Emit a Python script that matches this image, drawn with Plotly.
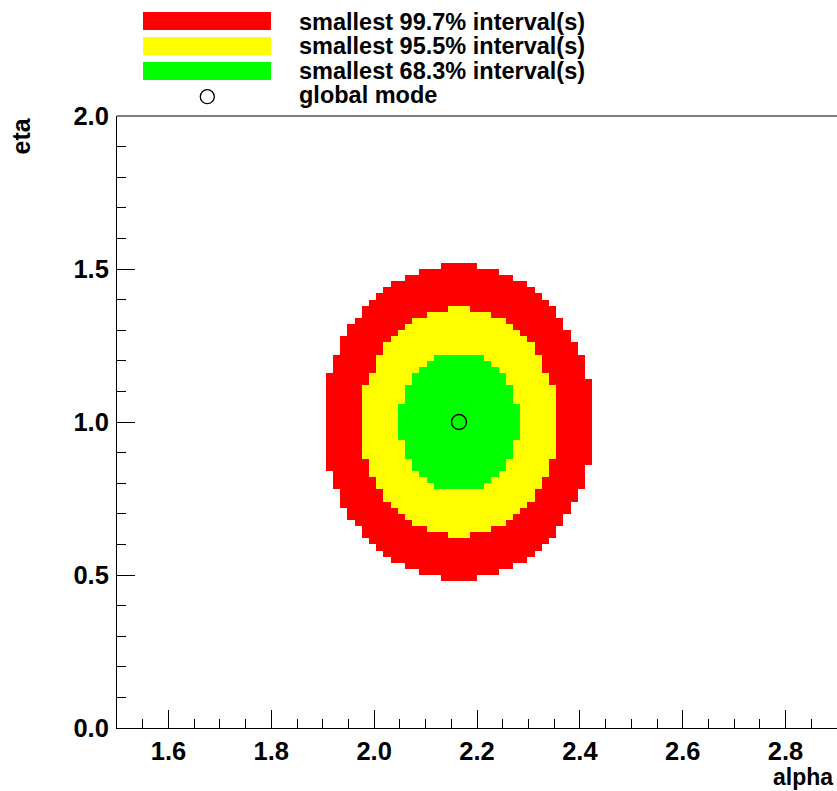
import numpy as np
import plotly.graph_objects as go

# ---- binning of the 2D histogram (100 x 100 bins) ----
x_min, x_max, n_x = 1.5, 2.9, 100
y_min, y_max, n_y = 0.0, 2.0, 100

# ---- smallest-interval regions, read row by row: (row index, first column, last column) ----
red_rows = list(range(24, 76))
red_first = [45, 42, 40, 38, 37, 36, 35, 34, 34, 33, 32, 32, 31, 31, 31, 30, 30, 30,
             29, 29, 29, 29, 29, 29, 29, 29, 29, 29, 29, 29, 29, 29, 29, 29,
             30, 30, 30, 31, 31, 31, 32, 32, 33, 34, 34, 35, 36, 37, 38, 40, 42, 45]
red_last = [49, 52, 54, 56, 57, 58, 59, 60, 60, 61, 61, 62, 62, 63, 63, 64, 64, 64, 64,
            65, 65, 65, 65, 65, 65, 65, 65, 65, 65, 65, 65, 65, 65,
            64, 64, 64, 64, 63, 63, 62, 62, 61, 61, 60, 60, 59, 58, 57, 56, 54, 52, 49]

yellow_rows = list(range(31, 69))
yellow_first = [46, 43, 41, 40, 39, 38, 37, 37, 36, 36, 35, 35, 35,
                34, 34, 34, 34, 34, 34, 34, 34, 34, 34, 34, 34,
                35, 35, 36, 36, 36, 37, 37, 38, 39, 40, 41, 43, 46]
yellow_last = [48, 51, 53, 54, 55, 56, 57, 57, 58, 58, 59, 59, 59,
               60, 60, 60, 60, 60, 60, 60, 60, 60, 60, 60, 60,
               59, 59, 58, 58, 58, 57, 57, 56, 55, 54, 53, 51, 48]

green_rows = list(range(39, 61))
green_first = [44, 43, 42, 41, 41, 40, 40, 40, 39, 39, 39, 39, 39, 39,
               40, 40, 40, 41, 41, 42, 43, 44]
green_last = [50, 51, 52, 53, 53, 54, 54, 54, 55, 55, 55, 55, 55, 55,
              54, 54, 54, 53, 53, 52, 51, 50]

mode_alpha = [2.165]
mode_eta = [1.0]

legend_labels = ["smallest 99.7% interval(s)", "smallest 95.5% interval(s)",
                 "smallest 68.3% interval(s)", "global mode"]
x_ticks = [1.6, 1.8, 2.0, 2.2, 2.4, 2.6, 2.8]
y_ticks = [0.0, 0.5, 1.0, 1.5, 2.0]

# ---- build the histogram level map ----
z = np.full((n_y, n_x), np.nan)
for level, rows, first, last in ((1, red_rows, red_first, red_last),
                                 (2, yellow_rows, yellow_first, yellow_last),
                                 (3, green_rows, green_first, green_last)):
    for r, a, b in zip(rows, first, last):
        z[r, a:b + 1] = level

dx = (x_max - x_min) / n_x
dy = (y_max - y_min) / n_y

FONT = "Liberation Sans"
RED, YEL, GRN = "#ff0000", "#ffff00", "#00ff00"

fig = go.Figure()
fig.add_trace(go.Heatmap(
    z=z, x0=x_min + dx / 2, dx=dx, y0=y_min + dy / 2, dy=dy,
    zmin=1, zmax=3, showscale=False, hoverinfo="skip",
    colorscale=[[0, RED], [0.3333, RED], [0.3333, YEL], [0.6667, YEL],
                [0.6667, GRN], [1, GRN]],
))
fig.add_trace(go.Scatter(
    x=mode_alpha, y=mode_eta, mode="markers", showlegend=False,
    marker=dict(symbol="circle-open", size=15, color="black", line=dict(width=1.3)),
))

W, H = 837, 791
L, R, T, B = 117, 0, 116, 63
pw, ph = W - L - R, H - T - B


def px(xpix):
    return (xpix - L) / pw


def py(ypix):
    return (H - B - ypix) / ph


shapes = []
# legend boxes
for (y0, y1), col in zip([(12, 30), (37, 55), (62, 80)], [RED, YEL, GRN]):
    shapes.append(dict(type="rect", xref="paper", yref="paper",
                       x0=px(143), x1=px(271), y0=py(y1), y1=py(y0),
                       fillcolor=col, line=dict(width=0)))
shapes.append(dict(type="circle", xref="paper", yref="paper",
                   x0=px(207.3 - 7), x1=px(207.3 + 7), y0=py(96.7 + 7), y1=py(96.7 - 7),
                   line=dict(color="black", width=1.3), fillcolor="rgba(0,0,0,0)"))
# top frame line
shapes.append(dict(type="line", xref="paper", yref="paper", x0=0, x1=1, y0=1, y1=1,
                   line=dict(color="black", width=1)))

annotations = []
for lab, yc in zip(legend_labels, [21.5, 46, 71, 95]):
    annotations.append(dict(text=lab, xref="paper", yref="paper", x=px(297), y=py(yc),
                            xanchor="left", yanchor="middle", showarrow=False,
                            font=dict(family=FONT, size=23.5, color="black", weight="bold")))
annotations.append(dict(text="alpha", xref="paper", yref="paper", x=1, y=py(777),
                        xanchor="right", yanchor="middle", showarrow=False, xshift=-2,
                        font=dict(family=FONT, size=23, color="black", weight="bold")))
annotations.append(dict(text="eta", xref="paper", yref="paper", x=px(20), y=py(116),
                        xanchor="center", yanchor="top", textangle=-90, showarrow=False,
                        font=dict(family=FONT, size=25, color="black", weight="bold")))

tickfont = dict(family=FONT, size=25.5, color="black", weight="bold")
fig.update_layout(
    width=W, height=H,
    margin=dict(l=L, r=R, t=T, b=B, pad=0),
    paper_bgcolor="white", plot_bgcolor="white",
    showlegend=False,
    shapes=shapes, annotations=annotations,
    xaxis=dict(range=[x_min, x_max], tickvals=x_ticks,
               ticktext=[f"{v:.1f}" for v in x_ticks],
               ticks="inside", ticklen=18, tickwidth=1, tickcolor="black",
               showline=True, linecolor="black", linewidth=1, mirror=False,
               showgrid=False, zeroline=False, tickfont=tickfont, ticklabelstandoff=0,
               minor=dict(dtick=0.05, tick0=1.5, ticks="inside", ticklen=9,
                          tickwidth=1, tickcolor="black", showgrid=False)),
    yaxis=dict(range=[y_min, y_max], tickvals=y_ticks,
               ticktext=[f"{v:.1f}" for v in y_ticks],
               ticks="inside", ticklen=18, tickwidth=1, tickcolor="black",
               showline=True, linecolor="black", linewidth=1, mirror=False,
               showgrid=False, zeroline=False, tickfont=tickfont, ticklabelstandoff=2,
               minor=dict(dtick=0.1, tick0=0, ticks="inside", ticklen=9,
                          tickwidth=1, tickcolor="black", showgrid=False)),
)

fig.write_html("out.html", config={"displayModeBar": False},
               post_script="document.body.style.margin='0px';document.body.style.overflow='hidden';")
